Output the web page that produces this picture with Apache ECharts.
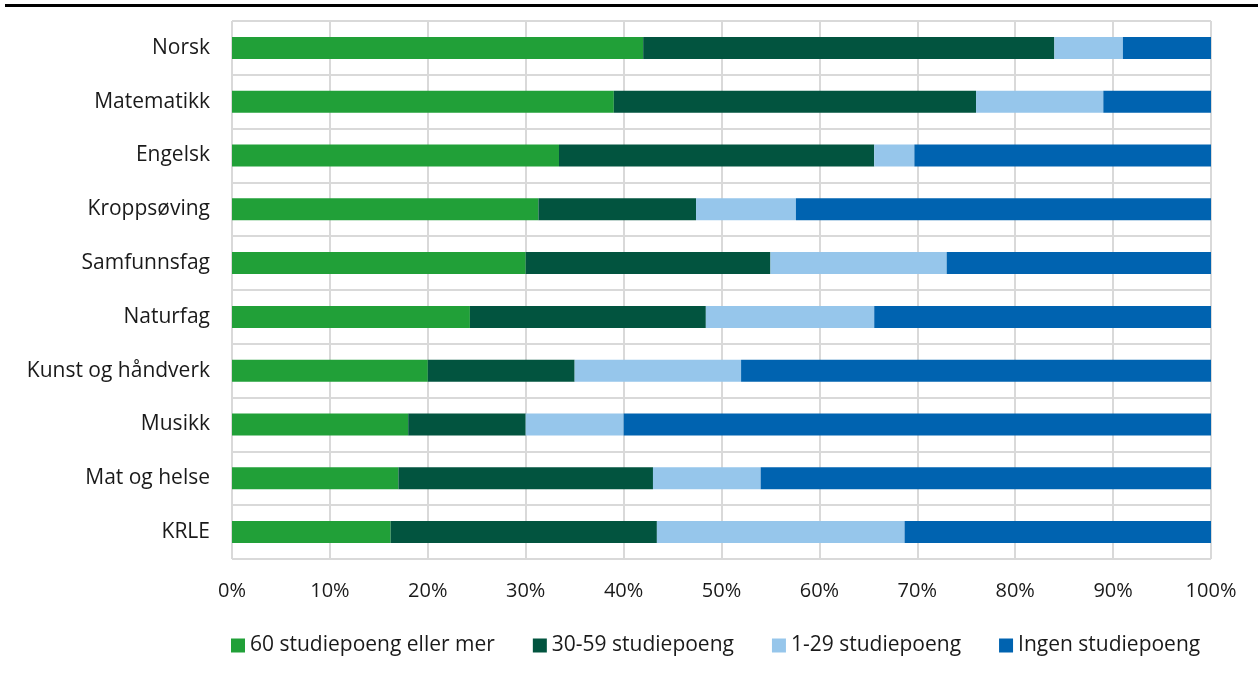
<!DOCTYPE html>
<html>
<head>
<meta charset="utf-8">
<script src="https://cdn.jsdelivr.net/npm/echarts@6/dist/echarts.min.js"></script>
<style>
  html, body { margin: 0; padding: 0; background: #fff; }
  #chart { width: 1258px; height: 677px; }
</style>
</head>
<body>
<div id="chart"></div>
<script>
// fag (ovenfra og ned)
var fag = ["Norsk", "Matematikk", "Engelsk", "Kroppsøving", "Samfunnsfag", "Naturfag", "Kunst og håndverk", "Musikk", "Mat og helse", "KRLE"];
var serieNavn = ["60 studiepoeng eller mer", "30-59 studiepoeng", "1-29 studiepoeng", "Ingen studiepoeng"];
// andel i prosent
var sp60 = [42, 39, 33.4, 31.3, 30, 24.3, 20, 18, 17, 16.2];
var sp30 = [42, 37, 32.2, 16.1, 25, 24.1, 15, 12, 26, 27.2];
var sp1 = [7, 13, 4.1, 10.2, 18, 17.2, 17, 10, 11, 25.3];
var ingen = [9, 11, 30.3, 42.4, 27, 34.4, 48, 60, 46, 31.3];
var farger = ["#21a038", "#02543f", "#96c6eb", "#0063b0"];

var myChart = echarts.init(document.getElementById("chart"));
var data = [sp60, sp30, sp1, ingen];
var series = [];
for (var i = 0; i < serieNavn.length; i++) {
  series.push({
    name: serieNavn[i],
    type: "bar",
    stack: "total",
    barWidth: 22,
    data: data[i],
    itemStyle: { color: farger[i] }
  });
}
var option = {
  animation: false,
  textStyle: { fontFamily: "Open Sans" },
  color: farger,
  graphic: [
    { type: "rect", shape: { x: 5, y: 4, width: 1253, height: 3 }, style: { fill: "#000" } }
  ],
  grid: { left: 232, right: 47, top: 21, bottom: 118 },
  legend: {
    bottom: 16,
    left: 226,
    itemWidth: 14,
    itemHeight: 14,
    itemGap: 38,
    icon: "rect",
    textStyle: { fontSize: 21, color: "#1a1a1a", fontFamily: "Open Sans" },
    data: serieNavn
  },
  xAxis: {
    type: "value",
    min: 0,
    max: 100,
    interval: 10,
    axisLine: { show: false },
    axisTick: { show: false },
    axisLabel: { formatter: "{value}%", fontSize: 20, color: "#1a1a1a", margin: 22 },
    splitLine: { show: true, lineStyle: { color: "#d9d9d9", width: 2 } }
  },
  yAxis: {
    type: "category",
    inverse: true,
    data: fag,
    axisLine: { show: false },
    axisTick: { show: false },
    axisLabel: { fontSize: 21, color: "#1a1a1a", margin: 22 },
    splitLine: { show: true, lineStyle: { color: "#d9d9d9", width: 2 } }
  },
  series: series
};
myChart.setOption(option);
</script>
</body>
</html>
